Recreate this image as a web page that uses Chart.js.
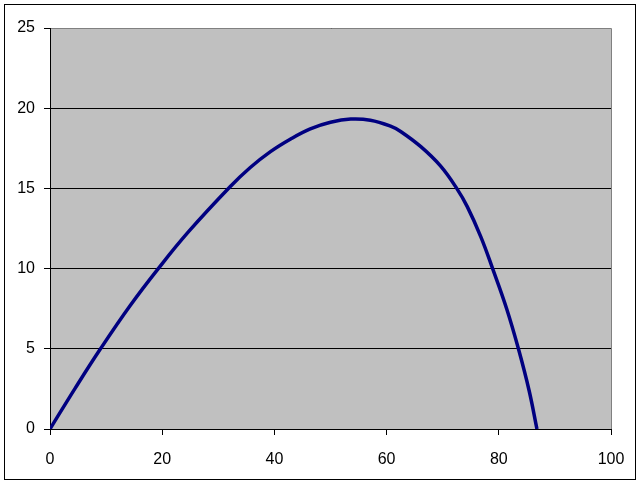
<!DOCTYPE html>
<html>
<head>
<meta charset="utf-8">
<script src="https://cdn.jsdelivr.net/npm/chart.js@4"></script>
<style>
  html, body { margin: 0; padding: 0; background: #ffffff; }
  #wrap { width: 641px; height: 485px; position: relative; }
</style>
</head>
<body>
<div id="wrap"><canvas id="c" width="641" height="485"></canvas></div>
<script>
const xValues = [0, 4.5, 9.0, 14.3, 19.3, 24.7, 32.1, 35.7, 39.3, 42.9, 46.4, 50.0, 53.6, 57.1, 60.7, 62.5, 66.1, 69.6, 72.5, 74.4, 76.8, 78.9, 81.4, 83.5, 85.4, 86.8];
const yValues = [0, 2.55, 5.0, 7.7, 10.0, 12.3, 15.1, 16.3, 17.29, 18.08, 18.71, 19.12, 19.32, 19.25, 18.88, 18.55, 17.6, 16.4, 15.0, 13.85, 11.98, 10.0, 7.5, 5.0, 2.4, 0];
const xTicks = [0, 20, 40, 60, 80, 100];
const yTicks = [0, 5, 10, 15, 20, 25];

const points = xValues.map((x, i) => ({ x: x, y: yValues[i] }));

const framePlugin = {
  id: 'frame',
  beforeDraw(chart) {
    const ctx = chart.ctx;
    const a = chart.chartArea;
    ctx.save();
    ctx.fillStyle = '#ffffff';
    ctx.fillRect(0, 0, chart.width, chart.height);
    ctx.fillStyle = '#c0c0c0';
    ctx.fillRect(a.left, a.top, a.right - a.left, a.bottom - a.top);
    ctx.strokeStyle = '#000000';
    ctx.lineWidth = 1;
    ctx.strokeRect(4.5, 4.5, 631, 475);
    ctx.restore();
  },
  afterDraw(chart) {
    const ctx = chart.ctx;
    const a = chart.chartArea;
    ctx.save();
    ctx.strokeStyle = '#808080';
    ctx.lineWidth = 1;
    ctx.beginPath();
    ctx.moveTo(a.left + 1, Math.round(a.top) + 0.5);
    ctx.lineTo(Math.round(a.right) + 0.5, Math.round(a.top) + 0.5);
    ctx.lineTo(Math.round(a.right) + 0.5, a.bottom);
    ctx.stroke();
    ctx.restore();
  }
};

new Chart(document.getElementById('c'), {
  type: 'scatter',
  data: {
    datasets: [{
      data: points,
      showLine: true,
      borderColor: '#000080',
      backgroundColor: '#000080',
      borderWidth: 3.5,
      pointRadius: 0,
      tension: 0.4
    }]
  },
  options: {
    responsive: false,
    animation: false,
    devicePixelRatio: 1,
    layout: { padding: { top: 28, right: 30, left: 0, bottom: 0 } },
    plugins: { legend: { display: false }, tooltip: { enabled: false } },
    scales: {
      x: {
        type: 'linear',
        min: 0, max: 100,
        afterBuildTicks(s) { s.ticks = xTicks.map(v => ({ value: v })); },
        afterFit(s) { s.height = 56; },
        grid: { drawOnChartArea: false, drawTicks: true, tickLength: 6, color: '#000000', lineWidth: 1 },
        border: { color: '#000000', width: 1 },
        ticks: { color: '#000000', padding: 15, maxRotation: 0, font: { family: 'Liberation Sans, Arial', size: 16 } }
      },
      y: {
        type: 'linear',
        min: 0, max: 25,
        afterBuildTicks(s) { s.ticks = yTicks.map(v => ({ value: v })); },
        afterFit(s) { s.width = 50; },
        grid: { drawOnChartArea: true, drawTicks: true, tickLength: 6, color: '#000000', lineWidth: 1 },
        border: { color: '#000000', width: 1 },
        ticks: { color: '#000000', padding: 9, font: { family: 'Liberation Sans, Arial', size: 16 } }
      }
    }
  },
  plugins: [framePlugin]
});
</script>
</body>
</html>
